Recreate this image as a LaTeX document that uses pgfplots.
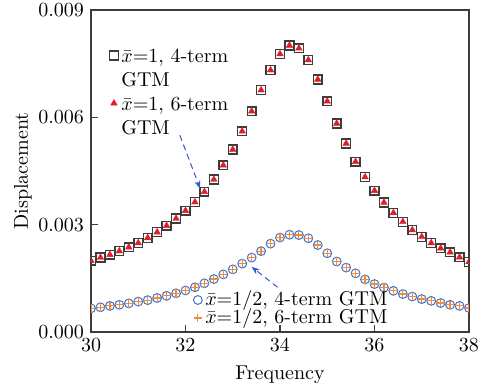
\documentclass[border=0pt]{standalone}
\usepackage{pgfplots}
\usepackage{pgfplotstable}
\pgfplotsset{compat=1.18}
\usetikzlibrary{calc,arrows.meta}
\definecolor{cred}{RGB}{222,30,40}
\definecolor{cblue}{RGB}{68,114,196}
\definecolor{corange}{RGB}{240,140,60}
\definecolor{cgray}{RGB}{60,60,60}
\definecolor{carrow}{RGB}{50,90,200}

\pgfplotstableread{
x y
30.0 0.00199
30.2 0.00208
30.4 0.00216
30.6 0.00226
30.8 0.00237
31.0 0.00249
31.2 0.00263
31.4 0.00279
31.6 0.00297
31.8 0.00317
32.0 0.00339
32.2 0.00363
32.4 0.00392
32.6 0.00426
32.8 0.00466
33.0 0.00510
33.2 0.00561
33.4 0.00617
33.6 0.00676
33.8 0.00732
34.0 0.00777
34.2 0.00801
34.4 0.00793
34.6 0.00760
34.8 0.00706
35.0 0.00645
35.2 0.00583
35.4 0.00527
35.6 0.00476
35.8 0.00433
36.0 0.00395
36.2 0.00362
36.4 0.00333
36.6 0.00308
36.8 0.00285
37.0 0.00266
37.2 0.00249
37.4 0.00234
37.6 0.00223
37.8 0.00209
38.0 0.00196
}\upperdata

\pgfplotstableread{
x y
30.0 0.00066
30.2 0.00069
30.4 0.00073
30.6 0.00076
30.8 0.00080
31.0 0.00085
31.2 0.00089
31.4 0.00095
31.6 0.00101
31.8 0.00108
32.0 0.00116
32.2 0.00125
32.4 0.00136
32.6 0.00148
32.8 0.00161
33.0 0.00175
33.2 0.00191
33.4 0.00208
33.6 0.00226
33.8 0.00247
34.0 0.00264
34.2 0.00272
34.4 0.00271
34.6 0.00262
34.8 0.00243
35.0 0.00220
35.2 0.00197
35.4 0.00180
35.6 0.00164
35.8 0.00147
36.0 0.00134
36.2 0.00124
36.4 0.00115
36.6 0.00106
36.8 0.00099
37.0 0.00092
37.2 0.00087
37.4 0.00081
37.6 0.00076
37.8 0.00073
38.0 0.00067
}\lowerdata

\begin{document}
\begin{tikzpicture}
\begin{axis}[
  name=ax,
  width=189pt, height=161pt, scale only axis,
  xmin=30, xmax=38, ymin=0, ymax=0.009,
  xtick={30,32,34,36,38},
  ytick={0,0.003,0.006,0.009},
  scaled y ticks=false,
  yticklabel style={/pgf/number format/.cd, fixed, fixed zerofill, precision=3},
  tick pos=left, tick align=inside,
  major tick length=3.5pt,
  axis line style={cgray, line width=0.8pt},
  every tick/.style={cgray, line width=0.8pt},
  xlabel={Frequency}, ylabel={Displacement},
  ylabel style={yshift=-3.5pt},
  clip marker paths=true,
  legend style={at={(0.048,0.9)}, anchor=north west, draw=none, fill=none,
    row sep=11pt, inner sep=0pt,
    nodes={inner sep=1.5pt}},
  legend cell align=left,
]
\addplot[only marks, mark=square, mark size=2.2pt, mark options={draw=cgray, line width=0.7pt}] table[x=x,y=y]{\upperdata};
\addlegendentry{\begin{tabular}[t]{@{}l@{}}$\bar{x}$=1, 4-term\\GTM\end{tabular}}
\addplot[only marks, mark=triangle*, mark size=1.9pt, mark options={fill=cred, draw=cred, line width=0.2pt}] table[x=x,y=y]{\upperdata};
\addlegendentry{\begin{tabular}[t]{@{}l@{}}$\bar{x}$=1, 6-term\\GTM\end{tabular}}
\addplot[only marks, mark=o, mark size=2.2pt, mark options={draw=cblue, line width=0.5pt}, forget plot] table[x=x,y=y]{\lowerdata};
\addplot[only marks, mark=+, mark size=2.1pt, mark options={draw=corange, line width=0.6pt}, forget plot] table[x=x,y=y]{\lowerdata};
\draw[carrow, densely dashed, line width=0.5pt, -{Stealth[length=4pt,width=3pt]}] (axis cs:31.88,0.0055) -- (axis cs:32.31,0.00401);
\draw[carrow, densely dashed, line width=0.5pt, -{Stealth[length=4pt,width=3pt]}] (axis cs:33.95,0.00125) -- (axis cs:33.40,0.00182);
\end{axis}
\begin{axis}[
  width=189pt, height=161pt, scale only axis,
  xmin=30, xmax=38, ymin=0, ymax=0.009,
  hide axis,
  legend style={at={(0.27,0.005)}, anchor=south west, draw=none, fill=none,
    row sep=-3pt, inner sep=0pt, nodes={inner sep=1.5pt}},
  legend cell align=left,
]
\addlegendimage{only marks, mark=o, mark size=2.2pt, mark options={draw=cblue, line width=0.5pt}}
\addlegendentry{$\bar{x}$=1/2, 4-term GTM}
\addlegendimage{only marks, mark=+, mark size=2.1pt, mark options={draw=corange, line width=0.6pt}}
\addlegendentry{$\bar{x}$=1/2, 6-term GTM}
\end{axis}
\pgfresetboundingbox
\path ($(ax.south west)+(-45.5pt,-30pt)$) rectangle ($(ax.north east)+(4.5pt,5pt)$);
\end{tikzpicture}
\end{document}
